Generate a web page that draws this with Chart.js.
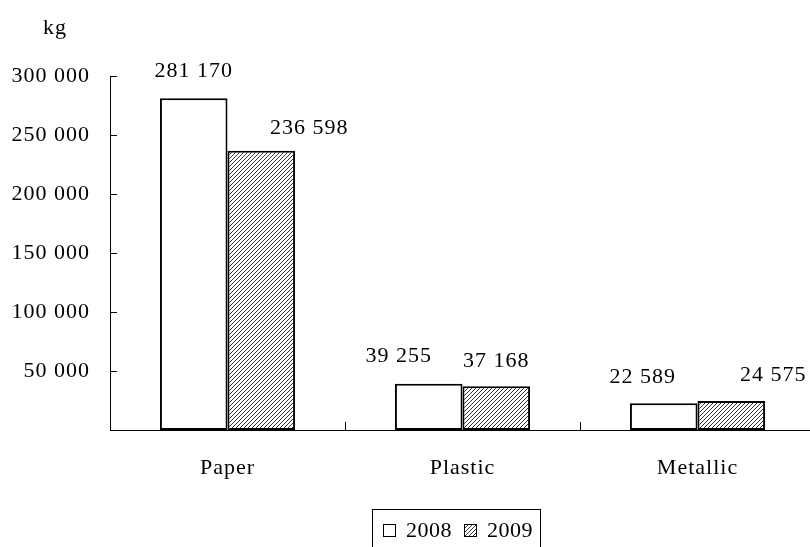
<!DOCTYPE html>
<html>
<head>
<meta charset="utf-8">
<script src="https://cdn.jsdelivr.net/npm/chart.js@4.4.1/dist/chart.umd.min.js"></script>
<style>
  html, body { margin: 0; padding: 0; background: #fff; overflow: hidden; }
  #wrap { position: absolute; left: 0; top: 0; width: 830px; height: 547px; }
  #legend {
    position: absolute; left: 372px; top: 509px; width: 169px; height: 60px;
    border: 1px solid #000; border-bottom: none; box-sizing: border-box;
    font-family: "Liberation Serif", serif; font-size: 22px; color: #000; letter-spacing: 0.5px;
    display: flex; align-items: flex-start; padding-top: 7px; padding-left: 10px;
  }
  .sw { display: inline-block; width: 11px; height: 11px; border: 1px solid #000; margin-top: 7px; margin-right: 10px; background: #fff; }
  .sw.hatch { background: repeating-linear-gradient(-45deg, #fff 0 1.6px, #333 1.6px 2.8px); }
  .item { display: flex; align-items: flex-start; margin-right: 12px; }
</style>
</head>
<body>
<div id="wrap"><canvas id="chart"></canvas></div>
<div id="legend">
  <span class="item"><span class="sw"></span>2008</span>
  <span class="item"><span class="sw hatch"></span>2009</span>
</div>
<script>
// datos
const categorias = ['Paper', 'Plastic', 'Metallic'];
const serie2008 = [281170, 39255, 22589];
const serie2009 = [236598, 37168, 24575];
const yTicks = [0, 50000, 100000, 150000, 200000, 250000, 300000];

// desplazamiento de las etiquetas (estilo, px)
const nudgeX = [[0, -30, -21], [48, 0, 42]];
const nudgeY = [[21, 22, 20], [17, 19, 20]];

const FONT = '"Liberation Serif", "Times New Roman", serif';

function fmt(v) {
    return String(v).replace(/\B(?=(\d{3})+(?!\d))/g, ' ');
}

// patrón rayado para 2009
function makeHatch() {
    const c = document.createElement('canvas');
    c.width = 4; c.height = 4;
    const g = c.getContext('2d');
    g.fillStyle = '#fff';
    g.fillRect(0, 0, 4, 4);
    g.strokeStyle = '#333';
    g.lineWidth = 1;
    g.beginPath();
    g.moveTo(-1, 5); g.lineTo(5, -1);
    g.moveTo(-1, 1); g.lineTo(1, -1);
    g.moveTo(3, 5); g.lineTo(5, 3);
    g.stroke();
    return g.createPattern(c, 'repeat');
}

const extras = {
    id: 'extras',
    beforeDraw(chart) {
        // el original tiene el texto algo espaciado
        chart.ctx.letterSpacing = '1px';
    },
    afterDraw(chart) {
        const ctx = chart.ctx;
        const xs = chart.scales.x;
        const ys = chart.scales.y;
        const area = chart.chartArea;
        ctx.save();
        ctx.strokeStyle = '#000';
        ctx.lineWidth = 1;
        // marcas hacia dentro en el eje y
        yTicks.forEach(v => {
            const y = Math.round(ys.getPixelForValue(v)) + 0.5;
            ctx.beginPath();
            ctx.moveTo(area.left, y);
            ctx.lineTo(area.left + 7, y);
            ctx.stroke();
        });
        // separadores entre categorías
        for (let i = 0; i < categorias.length; i++) {
            const x = Math.round((xs.getPixelForValue(i) + xs.getPixelForValue(i + 1)) / 2) + 0.5;
            ctx.beginPath();
            ctx.moveTo(x, area.bottom);
            ctx.lineTo(x, area.bottom - 8);
            ctx.stroke();
        }
        // unidad
        ctx.fillStyle = '#000';
        ctx.font = '22px ' + FONT;
        ctx.textAlign = 'center';
        ctx.textBaseline = 'alphabetic';
        ctx.fillText('kg', 55, 34);
        // valores encima de las barras
        chart.data.datasets.forEach((ds, i) => {
            const meta = chart.getDatasetMeta(i);
            meta.data.forEach((bar, j) => {
                ctx.fillText(fmt(ds.data[j]), bar.x + nudgeX[i][j], bar.y - nudgeY[i][j]);
            });
        });
        ctx.restore();
    }
};

new Chart(document.getElementById('chart'), {
    type: 'bar',
    data: {
        labels: categorias,
        datasets: [
            {
                label: '2008',
                data: serie2008,
                backgroundColor: '#fff',
                borderColor: '#000',
                borderWidth: 2,
                borderSkipped: false
            },
            {
                label: '2009',
                data: serie2009,
                backgroundColor: makeHatch(),
                borderColor: '#000',
                borderWidth: 2,
                borderSkipped: false
            }
        ]
    },
    options: {
        responsive: true,
        maintainAspectRatio: false,
        animation: false,
        events: [],
        layout: { padding: { left: 0, right: 15, top: 76, bottom: 0 } },
        datasets: { bar: { categoryPercentage: 0.575, barPercentage: 1.0 } },
        plugins: {
            legend: { display: false },
            tooltip: { enabled: false }
        },
        scales: {
            x: {
                grid: { display: false },
                border: { display: true, color: '#000', width: 1 },
                ticks: { color: '#000', font: { family: FONT, size: 22 }, padding: 17 },
                afterFit(scale) { scale.height = 117; }
            },
            y: {
                min: 0,
                max: 300000,
                grid: { display: false },
                border: { display: true, color: '#000', width: 1 },
                afterBuildTicks(scale) { scale.ticks = yTicks.map(v => ({ value: v })); },
                ticks: {
                    color: '#000',
                    padding: 12,
                    font: { family: FONT, size: 22 },
                    callback: v => (v === 0 ? '' : fmt(v))
                },
                afterFit(scale) { scale.width = 110; }
            }
        }
    },
    plugins: [extras]
});
</script>
</body>
</html>
